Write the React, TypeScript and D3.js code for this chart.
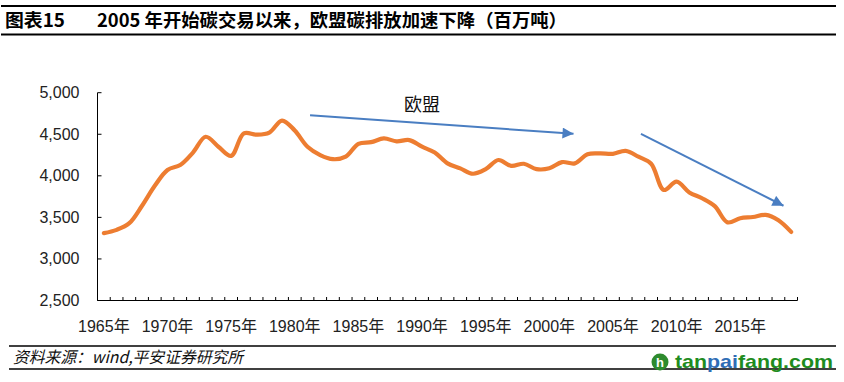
import React from "react";
import * as d3 from "d3";

const years: string[] = [
  "1965","1966","1967","1968","1969","1970","1971","1972","1973","1974",
  "1975","1976","1977","1978","1979","1980","1981","1982","1983","1984",
  "1985","1986","1987","1988","1989","1990","1991","1992","1993","1994",
  "1995","1996","1997","1998","1999","2000","2001","2002","2003","2004",
  "2005","2006","2007","2008","2009","2010","2011","2012","2013","2014",
  "2015","2016","2017","2018","2019",
];

const euEmissions: number[] = [
  3310, 3350, 3430, 3640, 3880, 4070, 4130, 4280, 4470, 4350,
  4240, 4510, 4495, 4520, 4665, 4545, 4350, 4250, 4200, 4230,
  4385, 4405, 4450, 4415, 4430, 4350, 4280, 4150, 4090, 4025,
  4080, 4190, 4120, 4145, 4080, 4090, 4165, 4150, 4260, 4270,
  4265, 4300, 4230, 4145, 3830, 3930, 3800, 3730, 3635, 3440,
  3490, 3505, 3530, 3465, 3325,
];

const yTicks: number[] = [2500, 3000, 3500, 4000, 4500, 5000];
const labeledYears: string[] = ["1965","1970","1975","1980","1985","1990","1995","2000","2005","2010","2015"];

// annotation arrows: [year, value] pairs
const arrowFrom: [number, number][] = [[1981.2, 4730], [2007.2, 4505]];
const arrowTo: [number, number][] = [[2001.9, 4505], [2018.4, 3640]];
const annotationLabel = "欧盟";
const annotationAt: [number, number] = [1990.0, 4780];

const titleLeft = "图表15";
const titleText = "2005 年开始碳交易以来，欧盟碳排放加速下降（百万吨）";
const sourceText = "资料来源：wind,平安证券研究所";

export default function App() {
  const W = 844, H = 382;
  const plotLeft = 97.5, plotRight = 797.5, plotTop = 92.7, plotBottom = 300.5;

  const x = d3.scaleBand<string>().domain(years).range([plotLeft, plotRight]).padding(0);
  const step = x.step();
  const xc = (yr: string) => (x(yr) as number) + step / 2;
  const xf = (yrf: number) => plotLeft + (yrf - +years[0] + 0.5) * step;
  const y = d3.scaleLinear().domain([2500, 5000]).range([plotBottom, plotTop]);

  const line = d3
    .line<number>()
    .x((_, i) => xc(years[i]))
    .y((d) => y(d))
    .curve(d3.curveCatmullRom.alpha(0.5));

  const tickXs = years.map((yr) => x(yr) as number).concat([plotRight]);
  const font = "Arial, 'Liberation Sans', 'Noto Sans CJK SC', sans-serif";
  const cjk = "'Noto Sans CJK SC', 'Liberation Sans', sans-serif";
  const arrowColor = "#4A7EC2";

  return (
    <svg width={W} height={H} style={{ position: "absolute", left: 0, top: 0, background: "#fff" }}>
      <defs>
        <marker id="ah" viewBox="0 0 10 10" refX="10" refY="5" markerWidth="6" markerHeight="5.5" orient="auto" markerUnits="strokeWidth">
          <path d="M0,0 L10,5 L0,10 Z" fill={arrowColor} />
        </marker>
      </defs>
      {/* header */}
      <line x1={1} x2={836} y1={6} y2={6} stroke="#000" strokeWidth={2} />
      <line x1={1} x2={836} y1={34.5} y2={34.5} stroke="#000" strokeWidth={2} />
      <text x={5} y={27} fontFamily={cjk} fontWeight="bold" fontSize={18} textLength={60} lengthAdjust="spacingAndGlyphs">{titleLeft}</text>
      <text x={97} y={27} fontFamily={cjk} fontWeight="bold" fontSize={18} textLength={470} lengthAdjust="spacingAndGlyphs">{titleText}</text>

      {/* axes */}
      <line x1={plotLeft} x2={plotLeft} y1={plotTop} y2={plotBottom} stroke="#000" strokeWidth={1} />
      <line x1={plotLeft} x2={plotRight} y1={plotBottom} y2={plotBottom} stroke="#000" strokeWidth={1} />
      {yTicks.map((t) => (
        <g key={t}>
          <line x1={plotLeft} x2={plotLeft + 4} y1={y(t)} y2={y(t)} stroke="#000" />
          <text x={79.5} y={y(t) + 5.5} textAnchor="end" fontFamily={font} fontSize={16} fill="#222">
            {d3.format(",")(t)}
          </text>
        </g>
      ))}
      {tickXs.map((tx, i) => (
        <line key={i} x1={tx} x2={tx} y1={plotBottom} y2={plotBottom - 3.5} stroke="#000" />
      ))}
      {labeledYears.map((yr) => (
        <text key={yr} x={xc(yr)} y={331.5} textAnchor="middle" fontFamily={font} fontSize={16} fill="#222">
          {yr + "年"}
        </text>
      ))}

      {/* series */}
      <path d={line(euEmissions) || ""} fill="none" stroke="#ED7D31" strokeWidth={4.2} strokeLinejoin="round" strokeLinecap="round" />

      {/* annotations */}
      {arrowFrom.map((f, i) => (
        <line key={i} x1={xf(f[0])} y1={y(f[1])} x2={xf(arrowTo[i][0])} y2={y(arrowTo[i][1])} stroke={arrowColor} strokeWidth={2} markerEnd="url(#ah)" />
      ))}
      <text x={xf(annotationAt[0])} y={y(annotationAt[1])} textAnchor="middle" fontFamily={cjk} fontSize={18} fill="#111">
        {annotationLabel}
      </text>

      {/* footer */}
      <line x1={9} x2={836} y1={346} y2={346} stroke="#000" strokeWidth={1.5} />
      <line x1={9} x2={836} y1={369} y2={369} stroke="#000" strokeWidth={1.5} />
      <text x={13} y={363} fontFamily={cjk} fontStyle="italic" fontSize={16} fill="#111" textLength={230} lengthAdjust="spacingAndGlyphs">
        {sourceText}
      </text>
      {/* watermark */}
      <circle cx={660} cy={362} r={8.5} fill="#2E8B2E" />
      <text x={660} y={367} textAnchor="middle" fontFamily={font} fontWeight="bold" fontSize={13} fill="#fff">h</text>
      <text x={675} y={368} fontFamily={font} fontWeight="bold" fontSize={19} textLength={158} lengthAdjust="spacingAndGlyphs">
        <tspan fill="#1E8C1E">tan</tspan>
        <tspan fill="#2F6DB5">pai</tspan>
        <tspan fill="#1E8C1E">fang.com</tspan>
      </text>
    </svg>
  );
}
